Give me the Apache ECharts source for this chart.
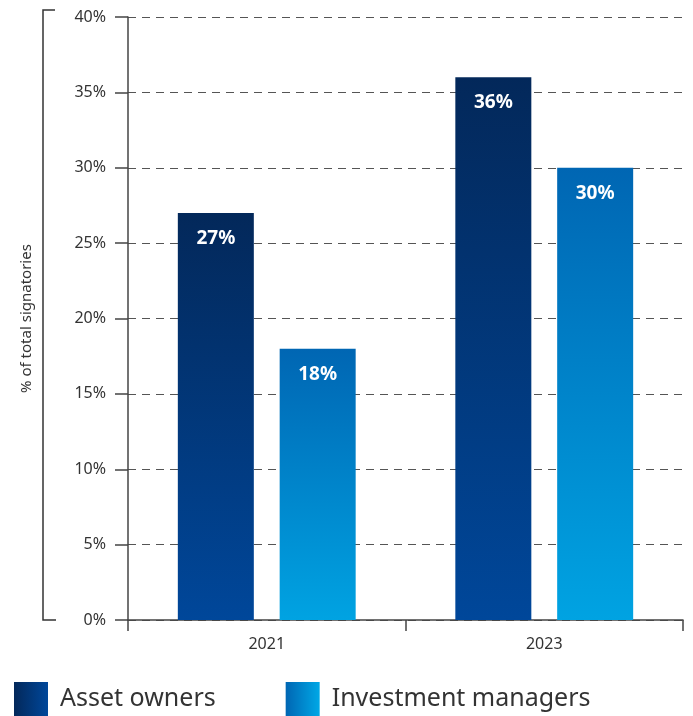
<!DOCTYPE html>
<html>
<head>
<meta charset="utf-8">
<script src="https://cdn.jsdelivr.net/npm/echarts@6/dist/echarts.min.js"></script>
<style>
    html, body { margin: 0; padding: 0; background: #fff; }
    #chart { width: 693px; height: 716px; }
</style>
</head>
<body>
<div id="chart"></div>
<script>
// chart data
var years = ['2021', '2023'];
var assetOwners = [27, 36];
var investmentManagers = [18, 30];
var seriesNames = ['Asset owners', 'Investment managers'];

var FONT = '"Noto Sans", "Open Sans", sans-serif';

function vGrad(top, bottom) {
    return new echarts.graphic.LinearGradient(0, 0, 0, 1, [
        { offset: 0, color: top },
        { offset: 1, color: bottom }
    ]);
}
function hGrad(left, right) {
    return new echarts.graphic.LinearGradient(0, 0, 1, 0, [
        { offset: 0, color: left },
        { offset: 1, color: right }
    ]);
}

var chart = echarts.init(document.getElementById('chart'));

var barLabel = {
    show: true,
    position: 'insideTop',
    distance: 16,
    color: '#fff',
    fontFamily: FONT,
    fontWeight: 'bold',
    fontSize: 19,
    formatter: '{c}%'
};

var option = {
    animation: false,
    grid: { left: 128, right: 10, top: 17, bottom: 96 },
    legend: {
        left: 14,
        top: 682,
        padding: 0,
        itemWidth: 34,
        itemHeight: 34,
        itemGap: 70,
        textStyle: { fontFamily: FONT, fontSize: 25, color: '#333', padding: [0, 0, 0, 7] },
        data: [
            { name: seriesNames[0], icon: 'rect', itemStyle: { color: hGrad('#03285a', '#00479a') } },
            { name: seriesNames[1], icon: 'rect', itemStyle: { color: hGrad('#0066b3', '#00a8e6') } }
        ]
    },
    xAxis: {
        type: 'category',
        data: years,
        axisLine: { lineStyle: { color: '#444', width: 1.5 } },
        axisTick: { show: true, length: 11, lineStyle: { color: '#444', width: 1.5 } },
        axisLabel: { fontFamily: FONT, fontSize: 16, color: '#333', margin: 16 }
    },
    yAxis: {
        type: 'value',
        min: 0,
        max: 40,
        interval: 5,
        name: '% of total signatories',
        nameLocation: 'middle',
        nameGap: 94,
        nameTextStyle: { fontFamily: FONT, fontSize: 15, color: '#333' },
        axisLine: { show: true, lineStyle: { color: '#444', width: 1.5 } },
        axisTick: { show: true, length: 13, lineStyle: { color: '#444', width: 1.5 } },
        axisLabel: { fontFamily: FONT, fontSize: 16, color: '#333', margin: 22, formatter: '{value}%' },
        splitLine: { lineStyle: { color: '#555', width: 1.2, type: [8, 6] } }
    },
    graphic: [{
        type: 'polyline',
        shape: { points: [[55, 10], [43, 10], [43, 620], [56, 620]] },
        style: { stroke: '#333', lineWidth: 1.5, fill: null }
    }],
    series: [
        {
            name: seriesNames[0],
            type: 'bar',
            data: assetOwners,
            barWidth: 76,
            barGap: '34%',
            itemStyle: { color: vGrad('#03285a', '#00479a') },
            label: barLabel
        },
        {
            name: seriesNames[1],
            type: 'bar',
            data: investmentManagers,
            barWidth: 76,
            itemStyle: { color: vGrad('#0066b3', '#00a3e2') },
            label: barLabel
        }
    ]
};

chart.setOption(option);
</script>
</body>
</html>
